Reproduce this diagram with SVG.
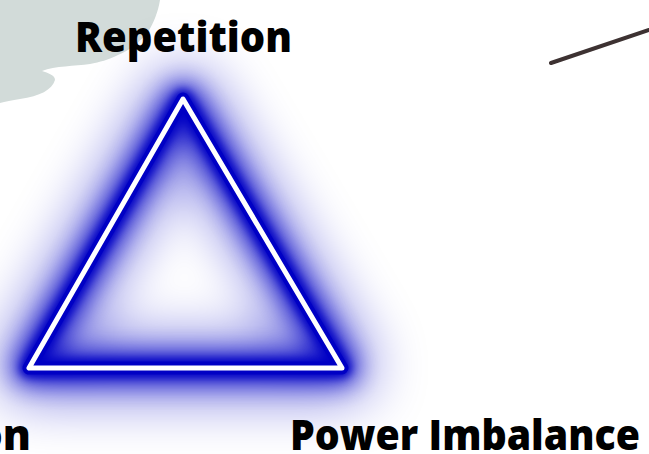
<svg xmlns="http://www.w3.org/2000/svg" width="649" height="454" viewBox="0 0 649 454">
<style>
.lbl{font-family:"Open Sans","Lato","Liberation Sans",sans-serif;font-weight:800;fill:#000;}
</style>
<defs>
<filter id="glowWide" x="-60%" y="-60%" width="220%" height="220%"><feGaussianBlur stdDeviation="28"/></filter>
<filter id="glowMid" x="-40%" y="-40%" width="180%" height="180%"><feGaussianBlur stdDeviation="12"/></filter>
<filter id="glowTight" x="-20%" y="-20%" width="140%" height="140%"><feGaussianBlur stdDeviation="4"/></filter>
<path id="tri" d="M183,99 L29,368 L342,368 Z"/>
</defs>
<rect width="649" height="454" fill="#fff"/>
<g id="blob">
<path d="M0,0 L160,0 C158,12 154,22 148,32 C140,42 130,50 118,55 C108,60 100,62 90,64 C75,66 55,66 42,71 C48,73 55,75 55,80 C52,90 40,96 20,99 C12,100 5,102 0,103 Z" fill="#d2dbd9"/>
</g>
<g id="line">
<line x1="551" y1="63" x2="649" y2="30" stroke="#3d3232" stroke-width="4" stroke-linecap="round"/>
</g>
<g id="triangle">
<use href="#tri" fill="none" stroke="#0000c4" stroke-width="60" stroke-linejoin="round" opacity="0.5" filter="url(#glowWide)"/>
<use href="#tri" fill="none" stroke="#0000c4" stroke-width="30" stroke-linejoin="round" opacity="0.9" filter="url(#glowMid)"/>
<use href="#tri" fill="none" stroke="#0000c4" stroke-width="18" stroke-linejoin="round" filter="url(#glowTight)"/>
<use href="#tri" fill="none" stroke="#0000c4" stroke-width="13" stroke-linejoin="round"/>
<use href="#tri" fill="none" stroke="#ffffff" stroke-width="5" stroke-linejoin="round"/>
</g>
<g id="label-repetition">
<text class="lbl" x="75" y="52" font-size="42" textLength="217" lengthAdjust="spacingAndGlyphs">Repetition</text>
</g>
<g id="label-power">
<text class="lbl" x="290" y="450" font-size="42" textLength="350" lengthAdjust="spacingAndGlyphs">Power Imbalance</text>
</g>
<g id="label-left">
<text class="lbl" x="31" y="450" font-size="42" text-anchor="end">on</text>
</g>
</svg>
